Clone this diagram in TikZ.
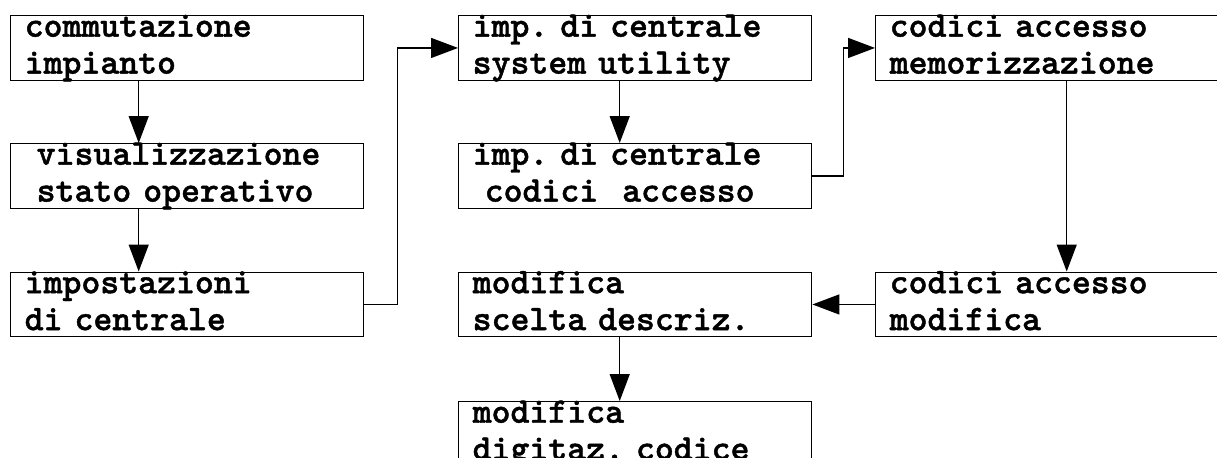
\documentclass[tikz,border=0pt]{standalone}
\usepackage{fontspec}
\usetikzlibrary{arrows.meta}
\newfontfamily\menufont[FakeBold=1.2]{lmmonolt10-bold.otf}
\frenchspacing
\tikzset{
    menu/.style={draw, line width=0.8pt, rectangle, anchor=north west,
        text width=6.5cm, align=left, inner xsep=0.28cm, inner ysep=0pt,
        text height=0.42cm, text depth=0.87cm,
        font=\menufont\fontsize{20.5pt}{21pt}\selectfont},
    go/.style={-{Triangle[length=0.54cm,width=0.4cm]}, line width=0.8pt}
}
\begin{document}
\begin{tikzpicture}
    \clip (0,0) rectangle (24.34,-9.14);
    % first column
    \node[menu] (comm) at (0.2,-0.3) {commutazione\\impianto};
    \node[menu] (visu) at (0.2,-2.86) {~visualizzazione\\~stato operativo};
    \node[menu] (imps) at (0.2,-5.43) {impostazioni\\di centrale};
    % second column
    \node[menu] (sysu) at (9.16,-0.3) {imp. di centrale\\system utility};
    \node[menu] (cdac) at (9.16,-2.86) {imp. di centrale\\~codici~~accesso};
    \node[menu] (desc) at (9.16,-5.43) {modifica\\scelta descriz.};
    \node[menu] (digi) at (9.16,-8.02) {modifica\\digitaz. codice};
    % third column
    \node[menu] (memo) at (17.5,-0.3) {codici accesso\\memorizzazione};
    \node[menu] (modc) at (17.5,-5.43) {codici accesso\\modifica};

    \draw[go] ([xshift=-0.97cm]comm.south) -- ([xshift=-0.97cm]visu.north);
    \draw[go] ([xshift=-0.97cm]visu.south) -- ([xshift=-0.97cm]imps.north);
    \draw[go] (imps.east) -- ++(0.66,0) |- (sysu.west);
    \draw[go] ([xshift=-0.31cm]sysu.south) -- ([xshift=-0.31cm]cdac.north);
    \draw[go] (cdac.east) -- ++(0.62,0) |- (memo.west);
    \draw[go] ([xshift=0.29cm]memo.south) -- ([xshift=0.29cm]modc.north);
    \draw[go] (modc.west) -- (desc.east);
    \draw[go] ([xshift=-0.31cm]desc.south) -- ([xshift=-0.31cm]digi.north);
\end{tikzpicture}
\end{document}
